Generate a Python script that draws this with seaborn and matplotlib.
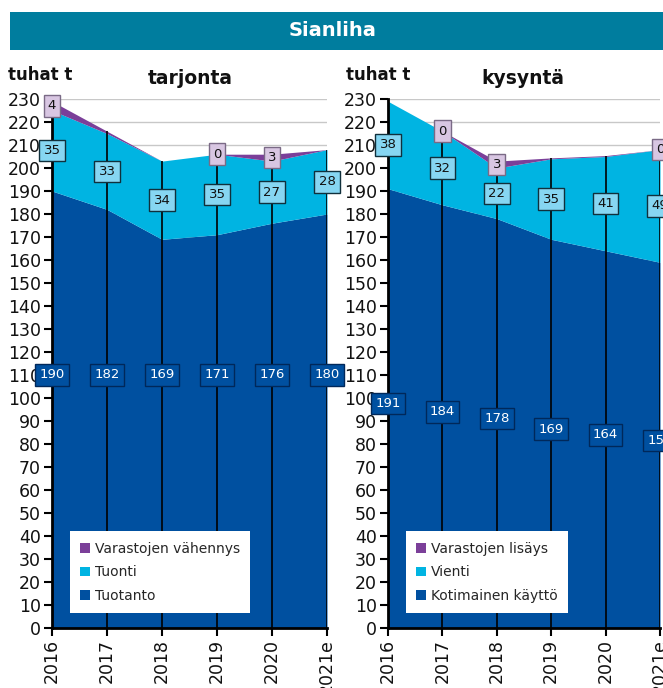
import matplotlib
matplotlib.use("Agg")
import matplotlib.pyplot as plt
from matplotlib.patches import Patch, Rectangle
import numpy as np
import seaborn as sns

sns.set_theme(style="white")
plt.rcParams['font.family'] = ['DejaVu Sans']

# ---------------- data ----------------
years = ['2016', '2017', '2018', '2019', '2020', '2021e']

# tarjonta (supply)
tuotanto = [190, 182, 169, 171, 176, 180]
tuonti = [35, 33, 34, 35, 27, 28]
varastojen_vahennys = [4, 1, 0, 0, 3, 0]
vahennys_label_shown = [True, False, False, True, True, False]

# kysyntä (demand)
kotimainen = [191, 184, 178, 169, 164, 159]
vienti = [38, 32, 22, 35, 41, 49]
varastojen_lisays = [0, 0, 3, 0.4, 0.4, 0]
lisays_label_shown = [False, True, True, False, False, True]

legend_left = ['Varastojen vähennys', 'Tuonti', 'Tuotanto']
legend_right = ['Varastojen lisäys', 'Vienti', 'Kotimainen käyttö']

# ---------------- style ----------------
C_DARK = '#0050A0'
C_LIGHT = '#00B4E2'
C_PURPLE = '#7B3F99'
C_BANNER = '#007D9E'

W, H = 663, 688
fig = plt.figure(figsize=(W / 100, H / 100), dpi=100)
fig.patch.set_facecolor('white')

# banner
fig.patches.append(Rectangle((10 / W, 1 - 50 / H), 1 - 10 / W, 38 / H,
                             transform=fig.transFigure, facecolor=C_BANNER,
                             edgecolor='none', zorder=0))
fig.text(333 / W, 1 - 31 / H, 'Sianliha', color='white', fontsize=14,
         fontweight='bold', ha='center', va='center')

axL = fig.add_axes([52 / W, 1 - 628 / H, 275 / W, 529 / H])
axR = fig.add_axes([388 / W, 1 - 628 / H, 272 / W, 529 / H])


def label(ax, x, y, txt, face, edge, tcolor):
    ax.text(x, y, txt, ha='center', va='center', fontsize=9.5, color=tcolor,
            zorder=10, clip_on=False,
            bbox=dict(boxstyle='square,pad=0.32', facecolor=face,
                      edgecolor=edge, linewidth=1.0))


def panel(ax, base, mid, top, shown, labels, base_label_y):
    x = np.arange(len(years))
    base = np.array(base, float)
    mid = np.array(mid, float)
    top = np.array(top, float)
    ax.set_axisbelow(True)
    ax.yaxis.grid(True, color='#C8C8C8', linewidth=1.0)
    ax.xaxis.grid(False)
    ax.stackplot(x, base, mid, top, colors=[C_DARK, C_LIGHT, C_PURPLE],
                 linewidth=0, zorder=2)
    total = base + mid + top
    ax.vlines(x, 0, total, colors='black', linewidth=1.2, zorder=3)
    ax.set_xlim(0, len(years) - 1)
    ax.set_ylim(0, 230)
    ax.set_yticks(np.arange(0, 231, 10))
    ax.set_xticks(x)
    ax.set_xticklabels(years, rotation=90)
    ax.tick_params(axis='both', which='both', direction='out', length=6,
                   width=1.5, color='black', labelsize=12.5, labelcolor='#111111',
                   left=True, bottom=True, pad=2)
    for s in ['top', 'right']:
        ax.spines[s].set_visible(False)
    ax.spines['left'].set_color('black')
    ax.spines['left'].set_linewidth(2)
    ax.spines['bottom'].set_color('black')
    ax.spines['bottom'].set_linewidth(2)
    ax.spines['left'].set_zorder(4)
    ax.spines['bottom'].set_zorder(4)

    for i in range(len(years)):
        label(ax, x[i], base_label_y[i], f'{base[i]:.0f}', C_DARK, '#00285A', 'white')
        label(ax, x[i], base[i] + mid[i] / 2, f'{mid[i]:.0f}', '#86D6F2', '#10303C', '#111111')
        if shown[i]:
            label(ax, x[i], base[i] + mid[i] + top[i] / 2, f'{top[i]:.0f}',
                  '#D8C6E2', '#7A6A86', '#111111')

    handles = [Patch(facecolor=c, edgecolor='none') for c in [C_PURPLE, C_LIGHT, C_DARK]]
    leg = ax.legend(handles, labels, loc='upper left', bbox_to_anchor=(0.065, 0.183),
                    frameon=True, fancybox=False, framealpha=1, edgecolor='white',
                    fontsize=10, handlelength=0.7, handleheight=0.7,
                    handletextpad=0.35, labelspacing=0.7, borderpad=0.75,
                    borderaxespad=0)
    leg.get_frame().set_linewidth(0)
    leg.set_zorder(11)


panel(axL, tuotanto, tuonti, varastojen_vahennys, vahennys_label_shown,
      legend_left, [110] * len(years))
panel(axR, kotimainen, vienti, varastojen_lisays, lisays_label_shown,
      legend_right, [v / 2 + 2 for v in kotimainen])

fig.text(8 / W, 1 - 75 / H, 'tuhat t', fontsize=12, fontweight='bold',
         ha='left', va='center', color='#111111')
fig.text(190 / W, 1 - 79 / H, 'tarjonta', fontsize=13.5, fontweight='bold',
         ha='center', va='center', color='#111111')
fig.text(346 / W, 1 - 75 / H, 'tuhat t', fontsize=12, fontweight='bold',
         ha='left', va='center', color='#111111')
fig.text(523 / W, 1 - 79 / H, 'kysyntä', fontsize=13.5, fontweight='bold',
         ha='center', va='center', color='#111111')

fig.savefig('out.png', dpi=100, facecolor='white')
